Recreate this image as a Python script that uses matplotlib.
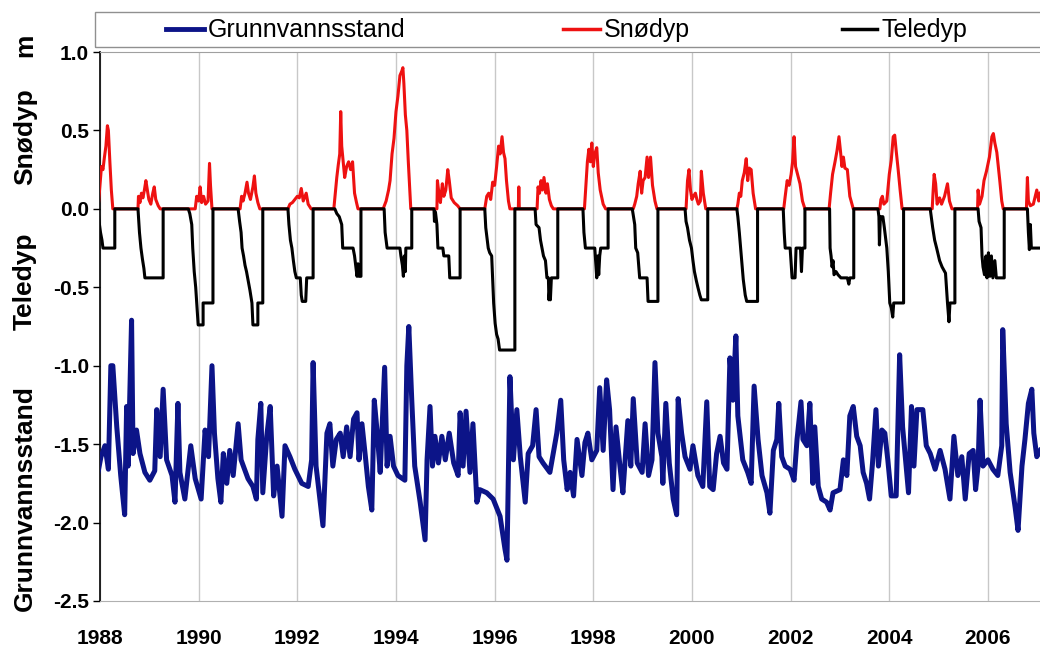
import numpy as np
import matplotlib
matplotlib.use("Agg")
import matplotlib.pyplot as plt
from matplotlib.lines import Line2D
from matplotlib.patches import Rectangle

plt.rcParams['font.family'] = ['Liberation Sans', 'DejaVu Sans']

# groundwater level (m) as (decimal year, level)
gw_pts = [
    (1987.96, -1.68), (1988.02, -1.58), (1988.10, -1.51), (1988.17, -1.66), (1988.22, -1.00),
    (1988.26, -1.00), (1988.34, -1.39), (1988.42, -1.70), (1988.50, -1.95), (1988.54, -1.26),
    (1988.57, -1.64), (1988.64, -0.71), (1988.67, -1.56), (1988.74, -1.41), (1988.81, -1.56),
    (1988.91, -1.68), (1989.01, -1.73), (1989.11, -1.67), (1989.15, -1.28), (1989.22, -1.58),
    (1989.28, -1.15), (1989.35, -1.60), (1989.46, -1.70), (1989.52, -1.87), (1989.58, -1.24),
    (1989.62, -1.68), (1989.72, -1.85), (1989.84, -1.51), (1989.93, -1.72), (1990.05, -1.85),
    (1990.13, -1.41), (1990.20, -1.58), (1990.27, -1.00), (1990.32, -1.43), (1990.39, -1.72),
    (1990.45, -1.87), (1990.50, -1.56), (1990.57, -1.75), (1990.63, -1.54), (1990.70, -1.70),
    (1990.80, -1.37), (1990.86, -1.60), (1991.00, -1.72), (1991.10, -1.77), (1991.17, -1.85),
    (1991.20, -1.47), (1991.26, -1.24), (1991.30, -1.81), (1991.38, -1.45), (1991.45, -1.26),
    (1991.52, -1.83), (1991.59, -1.64), (1991.69, -1.96), (1991.75, -1.51), (1991.85, -1.58),
    (1991.95, -1.66), (1992.09, -1.75), (1992.22, -1.77), (1992.29, -1.60), (1992.32, -0.98),
    (1992.38, -1.64), (1992.52, -2.02), (1992.60, -1.43), (1992.66, -1.37), (1992.72, -1.64),
    (1992.79, -1.47), (1992.87, -1.43), (1992.93, -1.58), (1993.00, -1.39), (1993.07, -1.58),
    (1993.14, -1.34), (1993.21, -1.30), (1993.25, -1.60), (1993.31, -1.37), (1993.38, -1.58),
    (1993.44, -1.77), (1993.51, -1.92), (1993.56, -1.22), (1993.62, -1.43), (1993.68, -1.68),
    (1993.77, -1.01), (1993.82, -1.64), (1993.88, -1.45), (1993.95, -1.64), (1994.04, -1.70),
    (1994.18, -1.73), (1994.22, -1.00), (1994.26, -0.75), (1994.32, -1.22), (1994.38, -1.64),
    (1994.49, -1.87), (1994.59, -2.11), (1994.63, -1.60), (1994.69, -1.26), (1994.74, -1.64),
    (1994.79, -1.45), (1994.86, -1.62), (1994.93, -1.45), (1995.00, -1.60), (1995.08, -1.43),
    (1995.17, -1.62), (1995.26, -1.70), (1995.30, -1.30), (1995.36, -1.64), (1995.42, -1.29),
    (1995.50, -1.68), (1995.56, -1.37), (1995.64, -1.87), (1995.70, -1.79), (1995.84, -1.81),
    (1995.97, -1.85), (1996.11, -1.96), (1996.21, -2.17), (1996.25, -2.24), (1996.31, -1.07),
    (1996.38, -1.60), (1996.45, -1.28), (1996.52, -1.58), (1996.62, -1.87), (1996.68, -1.56),
    (1996.77, -1.51), (1996.84, -1.28), (1996.90, -1.58), (1996.98, -1.62), (1997.12, -1.68),
    (1997.26, -1.43), (1997.34, -1.22), (1997.40, -1.60), (1997.47, -1.79), (1997.53, -1.68),
    (1997.60, -1.83), (1997.67, -1.47), (1997.77, -1.70), (1997.83, -1.49), (1997.89, -1.43),
    (1997.97, -1.60), (1998.07, -1.54), (1998.13, -1.14), (1998.20, -1.54), (1998.27, -1.09),
    (1998.33, -1.28), (1998.40, -1.79), (1998.46, -1.39), (1998.54, -1.64), (1998.60, -1.81),
    (1998.70, -1.35), (1998.76, -1.64), (1998.81, -1.21), (1998.89, -1.62), (1998.99, -1.68),
    (1999.05, -1.37), (1999.12, -1.70), (1999.19, -1.60), (1999.25, -0.98), (1999.31, -1.43),
    (1999.39, -1.58), (1999.41, -1.75), (1999.47, -1.24), (1999.54, -1.62), (1999.62, -1.85),
    (1999.69, -1.95), (1999.72, -1.21), (1999.79, -1.43), (1999.86, -1.58), (1999.96, -1.66),
    (2000.02, -1.51), (2000.12, -1.70), (2000.22, -1.77), (2000.30, -1.23), (2000.36, -1.77),
    (2000.43, -1.79), (2000.50, -1.56), (2000.57, -1.45), (2000.64, -1.62), (2000.71, -1.66),
    (2000.77, -0.95), (2000.83, -1.22), (2000.89, -0.81), (2000.93, -1.32), (2001.03, -1.60),
    (2001.13, -1.68), (2001.20, -1.75), (2001.26, -1.13), (2001.34, -1.47), (2001.42, -1.70),
    (2001.52, -1.81), (2001.58, -1.94), (2001.65, -1.54), (2001.72, -1.47), (2001.76, -1.24),
    (2001.82, -1.58), (2001.89, -1.64), (2001.99, -1.66), (2002.07, -1.73), (2002.13, -1.47),
    (2002.21, -1.23), (2002.25, -1.47), (2002.33, -1.51), (2002.39, -1.24), (2002.45, -1.75),
    (2002.49, -1.39), (2002.56, -1.77), (2002.63, -1.85), (2002.73, -1.87), (2002.80, -1.92),
    (2002.86, -1.81), (2003.00, -1.79), (2003.07, -1.60), (2003.14, -1.70), (2003.20, -1.32),
    (2003.27, -1.26), (2003.34, -1.45), (2003.41, -1.51), (2003.47, -1.68), (2003.54, -1.75),
    (2003.60, -1.85), (2003.66, -1.62), (2003.73, -1.28), (2003.78, -1.64), (2003.85, -1.41),
    (2003.91, -1.43), (2003.97, -1.60), (2004.04, -1.83), (2004.14, -1.83), (2004.21, -0.93),
    (2004.27, -1.39), (2004.33, -1.60), (2004.39, -1.81), (2004.45, -1.26), (2004.50, -1.64),
    (2004.56, -1.28), (2004.68, -1.28), (2004.75, -1.51), (2004.83, -1.56), (2004.93, -1.66),
    (2005.03, -1.54), (2005.13, -1.66), (2005.23, -1.85), (2005.31, -1.45), (2005.39, -1.70),
    (2005.47, -1.58), (2005.54, -1.85), (2005.62, -1.56), (2005.70, -1.54), (2005.75, -1.79),
    (2005.80, -1.64), (2005.84, -1.22), (2005.90, -1.64), (2006.00, -1.60), (2006.10, -1.66),
    (2006.20, -1.70), (2006.28, -1.51), (2006.30, -0.77), (2006.37, -1.37), (2006.45, -1.68),
    (2006.55, -1.90), (2006.61, -2.05), (2006.69, -1.64), (2006.75, -1.47), (2006.82, -1.24),
    (2006.89, -1.15), (2006.93, -1.43), (2006.99, -1.58), (2007.06, -1.54),
]

# snow depth (m), winter by winter
snow_pts = [
    (1987.96, 0), (1988.00, 0.15), (1988.03, 0.27), (1988.06, 0.25), (1988.09, 0.33), (1988.12, 0.40),
    (1988.15, 0.53), (1988.17, 0.50), (1988.20, 0.30), (1988.23, 0.12), (1988.26, 0),
    (1988.77, 0), (1988.78, 0.08), (1988.81, 0.04), (1988.84, 0.10), (1988.87, 0.07), (1988.90, 0.12),
    (1988.93, 0.18), (1988.96, 0.12), (1988.99, 0.06), (1989.03, 0.03), (1989.07, 0.10), (1989.10, 0.14),
    (1989.13, 0.06), (1989.18, 0.02), (1989.22, 0),
    (1989.93, 0), (1989.96, 0.08), (1990.00, 0.05), (1990.03, 0.14), (1990.06, 0.04), (1990.10, 0.08),
    (1990.14, 0.03), (1990.19, 0.05), (1990.22, 0.29), (1990.24, 0.15), (1990.27, 0),
    (1990.84, 0), (1990.87, 0.08), (1990.90, 0.05), (1990.94, 0.10), (1990.98, 0.17), (1991.01, 0.10),
    (1991.05, 0.06), (1991.10, 0.14), (1991.13, 0.21), (1991.16, 0.10), (1991.20, 0.04), (1991.24, 0),
    (1991.81, 0), (1991.85, 0.03), (1991.90, 0.04), (1991.95, 0.06), (1992.00, 0.08), (1992.04, 0.07),
    (1992.08, 0.13), (1992.12, 0.05), (1992.18, 0.10), (1992.22, 0.03), (1992.28, 0),
    (1992.74, 0), (1992.77, 0.10), (1992.80, 0.20), (1992.83, 0.28), (1992.86, 0.35), (1992.88, 0.62),
    (1992.90, 0.40), (1992.93, 0.30), (1992.96, 0.20), (1993.00, 0.27), (1993.04, 0.30), (1993.08, 0.25),
    (1993.12, 0.30), (1993.16, 0.10), (1993.20, 0.04), (1993.23, 0),
    (1993.74, 0), (1993.80, 0.05), (1993.85, 0.12), (1993.88, 0.18), (1993.92, 0.35), (1993.96, 0.45),
    (1994.00, 0.62), (1994.04, 0.72), (1994.08, 0.85), (1994.12, 0.88), (1994.14, 0.90), (1994.16, 0.80),
    (1994.19, 0.60), (1994.22, 0.50), (1994.25, 0.30), (1994.30, 0),
    (1994.83, 0), (1994.84, 0.18), (1994.87, 0.10), (1994.90, 0.04), (1994.94, 0.16), (1994.97, 0.08),
    (1995.01, 0.12), (1995.05, 0.25), (1995.08, 0.18), (1995.12, 0.07), (1995.18, 0.04), (1995.25, 0.02),
    (1995.30, 0),
    (1995.80, 0), (1995.84, 0.08), (1995.88, 0.10), (1995.92, 0.06), (1995.96, 0.17), (1996.00, 0.15),
    (1996.04, 0.27), (1996.08, 0.40), (1996.11, 0.35), (1996.15, 0.46), (1996.18, 0.36), (1996.21, 0.32),
    (1996.24, 0.18), (1996.28, 0.05), (1996.31, 0), (1996.48, 0), (1996.49, 0.14), (1996.50, 0),
    (1996.86, 0), (1996.88, 0.14), (1996.91, 0.10), (1996.94, 0.18), (1996.97, 0.12), (1997.00, 0.20),
    (1997.04, 0.10), (1997.07, 0.16), (1997.11, 0.06), (1997.15, 0.02), (1997.19, 0),
    (1997.82, 0), (1997.85, 0.15), (1997.88, 0.30), (1997.91, 0.38), (1997.94, 0.30), (1997.97, 0.42),
    (1998.00, 0.27), (1998.03, 0.35), (1998.07, 0.39), (1998.10, 0.23), (1998.14, 0.12), (1998.20, 0.03),
    (1998.25, 0),
    (1998.81, 0), (1998.84, 0.03), (1998.88, 0.08), (1998.91, 0.16), (1998.95, 0.24), (1998.98, 0.10),
    (1999.01, 0.18), (1999.05, 0.20), (1999.09, 0.33), (1999.12, 0.20), (1999.16, 0.33), (1999.20, 0.15),
    (1999.25, 0.05), (1999.29, 0),
    (1999.88, 0), (1999.91, 0.18), (1999.94, 0.25), (1999.97, 0.12), (2000.00, 0.06), (2000.03, 0.08),
    (2000.07, 0.10), (2000.10, 0.06), (2000.13, 0.03), (2000.17, 0.05), (2000.19, 0.24), (2000.23, 0.10),
    (2000.28, 0),
    (2000.91, 0), (2000.93, 0.03), (2000.96, 0.10), (2000.99, 0.08), (2001.02, 0.18), (2001.06, 0.23),
    (2001.10, 0.32), (2001.13, 0.18), (2001.16, 0.26), (2001.20, 0.25), (2001.24, 0.10), (2001.29, 0),
    (2001.86, 0), (2001.89, 0.08), (2001.93, 0.18), (2001.97, 0.15), (2002.01, 0.22), (2002.04, 0.30),
    (2002.07, 0.46), (2002.10, 0.27), (2002.14, 0.22), (2002.19, 0.16), (2002.24, 0.05), (2002.29, 0),
    (2002.78, 0), (2002.81, 0.10), (2002.85, 0.22), (2002.90, 0.30), (2002.94, 0.37), (2002.98, 0.46),
    (2003.01, 0.37), (2003.04, 0.27), (2003.07, 0.33), (2003.10, 0.26), (2003.15, 0.25), (2003.20, 0.08),
    (2003.27, 0),
    (2003.81, 0), (2003.83, 0.06), (2003.86, 0.08), (2003.89, 0.03), (2003.95, 0.05), (2004.00, 0.22),
    (2004.04, 0.31), (2004.08, 0.46), (2004.11, 0.47), (2004.14, 0.37), (2004.18, 0.25), (2004.22, 0.12),
    (2004.26, 0),
    (2004.87, 0), (2004.89, 0.12), (2004.91, 0.22), (2004.94, 0.16), (2004.97, 0.03), (2005.02, 0.07),
    (2005.06, 0.03), (2005.12, 0.08), (2005.18, 0.16), (2005.22, 0.05), (2005.27, 0),
    (2005.79, 0), (2005.80, 0.12), (2005.83, 0.03), (2005.88, 0.08), (2005.92, 0.18), (2005.97, 0.24),
    (2006.03, 0.33), (2006.08, 0.46), (2006.11, 0.48), (2006.14, 0.42), (2006.18, 0.36), (2006.21, 0.27),
    (2006.24, 0.18), (2006.28, 0.05), (2006.31, 0),
    (2006.78, 0), (2006.80, 0.20), (2006.82, 0.05), (2006.86, 0.02), (2006.92, 0.03), (2006.96, 0.08),
    (2006.99, 0.12), (2007.03, 0.05), (2007.06, 0.10),
]

# frost depth (m, negative downwards), winter by winter
frost_pts = [
    (1987.96, 0), (1987.98, -0.08), (1988.01, -0.15), (1988.04, -0.20), (1988.06, -0.25), (1988.30, -0.25),
    (1988.30, 0),
    (1988.77, 0), (1988.78, -0.05), (1988.80, -0.15), (1988.83, -0.25), (1988.86, -0.32), (1988.89, -0.38),
    (1988.91, -0.44), (1989.28, -0.44), (1989.28, 0),
    (1989.79, 0), (1989.82, -0.03), (1989.86, -0.10), (1989.88, -0.25), (1989.91, -0.40), (1989.94, -0.50),
    (1989.96, -0.60), (1989.99, -0.74), (1990.09, -0.74), (1990.09, -0.60), (1990.29, -0.60), (1990.29, 0),
    (1990.80, 0), (1990.83, -0.08), (1990.86, -0.15), (1990.88, -0.25), (1990.91, -0.30), (1990.94, -0.36),
    (1990.97, -0.40), (1991.00, -0.45), (1991.04, -0.52), (1991.08, -0.60), (1991.10, -0.74), (1991.20, -0.74),
    (1991.20, -0.60), (1991.30, -0.60), (1991.30, 0),
    (1991.81, 0), (1991.83, -0.10), (1991.86, -0.20), (1991.89, -0.25), (1991.92, -0.33), (1991.95, -0.40),
    (1991.98, -0.44), (1992.06, -0.44), (1992.08, -0.55), (1992.10, -0.59), (1992.17, -0.59), (1992.19, -0.44),
    (1992.32, -0.44), (1992.32, 0),
    (1992.76, 0), (1992.80, -0.03), (1992.85, -0.05), (1992.90, -0.10), (1992.92, -0.25), (1993.13, -0.25),
    (1993.16, -0.30), (1993.19, -0.38), (1993.21, -0.43), (1993.23, -0.35), (1993.25, -0.43), (1993.29, -0.43),
    (1993.29, 0),
    (1993.76, 0), (1993.78, -0.15), (1993.82, -0.25), (1994.08, -0.25), (1994.10, -0.30), (1994.13, -0.36),
    (1994.15, -0.43), (1994.17, -0.30), (1994.19, -0.40), (1994.20, -0.25), (1994.32, -0.25), (1994.32, 0),
    (1994.77, 0), (1994.78, -0.08), (1994.80, -0.02), (1994.83, -0.10), (1994.85, -0.25), (1994.95, -0.25),
    (1994.97, -0.30), (1995.07, -0.30), (1995.09, -0.44), (1995.30, -0.44), (1995.30, 0),
    (1995.80, 0), (1995.82, -0.12), (1995.85, -0.20), (1995.87, -0.25), (1995.90, -0.28), (1995.94, -0.30),
    (1995.96, -0.45), (1995.98, -0.60), (1996.01, -0.73), (1996.04, -0.80), (1996.07, -0.83), (1996.10, -0.90),
    (1996.41, -0.90), (1996.41, 0),
    (1996.82, 0), (1996.84, -0.10), (1996.90, -0.12), (1996.93, -0.20), (1996.96, -0.25), (1996.99, -0.30),
    (1997.03, -0.33), (1997.06, -0.44), (1997.09, -0.44), (1997.10, -0.58), (1997.12, -0.50), (1997.13, -0.58),
    (1997.15, -0.44), (1997.28, -0.44), (1997.28, 0),
    (1997.79, 0), (1997.81, -0.15), (1997.84, -0.25), (1998.03, -0.25), (1998.05, -0.35), (1998.07, -0.44),
    (1998.09, -0.30), (1998.11, -0.42), (1998.13, -0.30), (1998.15, -0.25), (1998.30, -0.25), (1998.30, 0),
    (1998.79, 0), (1998.81, -0.04), (1998.84, -0.10), (1998.86, -0.25), (1998.90, -0.28), (1998.94, -0.44),
    (1999.09, -0.44), (1999.11, -0.59), (1999.31, -0.59), (1999.31, 0),
    (1999.86, 0), (1999.88, -0.08), (1999.91, -0.12), (1999.95, -0.20), (1999.99, -0.25), (2000.02, -0.33),
    (2000.05, -0.40), (2000.09, -0.46), (2000.12, -0.50), (2000.16, -0.55), (2000.19, -0.58), (2000.32, -0.58),
    (2000.32, 0),
    (2000.91, 0), (2000.93, -0.05), (2000.96, -0.15), (2001.00, -0.30), (2001.04, -0.45), (2001.08, -0.55),
    (2001.11, -0.59), (2001.33, -0.59), (2001.33, 0),
    (2001.85, 0), (2001.87, -0.15), (2001.89, -0.25), (2001.99, -0.25), (2002.01, -0.35), (2002.03, -0.44),
    (2002.09, -0.44), (2002.11, -0.25), (2002.20, -0.25), (2002.22, -0.40), (2002.24, -0.25), (2002.29, -0.25),
    (2002.29, 0),
    (2002.79, 0), (2002.80, -0.25), (2002.82, -0.30), (2002.84, -0.37), (2002.86, -0.33), (2002.88, -0.42),
    (2002.92, -0.40), (2002.96, -0.42), (2003.02, -0.44), (2003.15, -0.44), (2003.18, -0.48), (2003.20, -0.44),
    (2003.28, -0.44), (2003.28, 0),
    (2003.77, 0), (2003.79, -0.05), (2003.80, -0.23), (2003.82, -0.05), (2003.87, -0.05), (2003.90, -0.12),
    (2003.93, -0.20), (2003.95, -0.25), (2003.98, -0.40), (2004.01, -0.60), (2004.04, -0.63), (2004.07, -0.69),
    (2004.09, -0.60), (2004.29, -0.60), (2004.29, 0),
    (2004.83, 0), (2004.85, -0.05), (2004.88, -0.12), (2004.92, -0.20), (2004.96, -0.25), (2005.02, -0.33),
    (2005.07, -0.37), (2005.14, -0.41), (2005.18, -0.60), (2005.21, -0.72), (2005.23, -0.60), (2005.33, -0.60),
    (2005.33, 0),
    (2005.80, 0), (2005.82, -0.08), (2005.86, -0.12), (2005.88, -0.30), (2005.90, -0.37), (2005.93, -0.42),
    (2005.96, -0.30), (2005.98, -0.44), (2006.01, -0.28), (2006.04, -0.43), (2006.07, -0.30), (2006.10, -0.44),
    (2006.14, -0.33), (2006.17, -0.44), (2006.33, -0.44), (2006.33, 0),
    (2006.80, 0), (2006.82, -0.15), (2006.84, -0.26), (2006.86, -0.10), (2006.88, -0.25), (2007.06, -0.25),
]

x_ticks = list(range(1988, 2007, 2))
y_ticks = [1.0, 0.5, 0.0, -0.5, -1.0, -1.5, -2.0, -2.5]

W, H = 1040, 648
fig = plt.figure(figsize=(W / 100, H / 100), dpi=100)
ax = fig.add_axes([100 / W, 1 - 601 / H, 1 - 100 / W, (601 - 52) / H])

navy = '#0c1488'
red = '#ee1111'

gw = np.array(gw_pts).T
snow = np.array(snow_pts).T
frost = np.array(frost_pts).T
ax.plot(gw[0], gw[1], color=navy, lw=3.6, solid_joinstyle='round', zorder=3)
ax.plot(snow[0], snow[1], color=red, lw=2.2, zorder=4)
ax.plot(frost[0], frost[1], color='black', lw=2.2, zorder=5)

ax.set_xlim(1988, 1988 + (W - 100) / 49.33)
ax.set_ylim(-2.5, 1.0)
ax.set_xticks(x_ticks)
ax.set_xticklabels([str(t) for t in x_ticks], fontsize=15, fontweight='bold')
ax.set_yticks(y_ticks)
ax.set_yticklabels([f"{v:.1f}" for v in y_ticks], fontsize=15, fontweight='bold')
ax.tick_params(axis='x', length=0, pad=20)
ax.tick_params(axis='y', length=5, width=1, direction='out', pad=3)
ax.grid(axis='x', color='#c8c8c8', lw=1)
ax.set_axisbelow(True)
ax.spines['right'].set_visible(False)
ax.spines['top'].set_color('#a0a0a0')
ax.spines['bottom'].set_color('#b0b0b0')
ax.spines['left'].set_color('black')
ax.spines['left'].set_linewidth(1.2)

# axis titles on the left
for txt, yc in [("m", 45), ("Snødyp", 137), ("Teledyp", 281), ("Grunnvannsstand", 498)]:
    fig.text(25 / W, 1 - yc / H, txt, rotation=90, ha='center', va='center',
             fontsize=19, fontweight='bold')

# legend box across the top
fig.add_artist(Rectangle((95 / W, 1 - 47 / H), 1.0, 35 / H, transform=fig.transFigure,
                         fill=False, edgecolor='#909090', lw=1))
for (x0, x1, col, lw, label) in [(166, 204, navy, 3.5, "Grunnvannsstand"),
                                 (563, 600, red, 2.5, "Snødyp"),
                                 (842, 877, 'black', 2.5, "Teledyp")]:
    fig.add_artist(Line2D([x0 / W, x1 / W], [1 - 29 / H, 1 - 29 / H], color=col, lw=lw,
                          transform=fig.transFigure))
    fig.text((x1 + 4) / W, 1 - 30 / H, label, ha='left', va='center', fontsize=18)

fig.savefig("out.png", dpi=100)
